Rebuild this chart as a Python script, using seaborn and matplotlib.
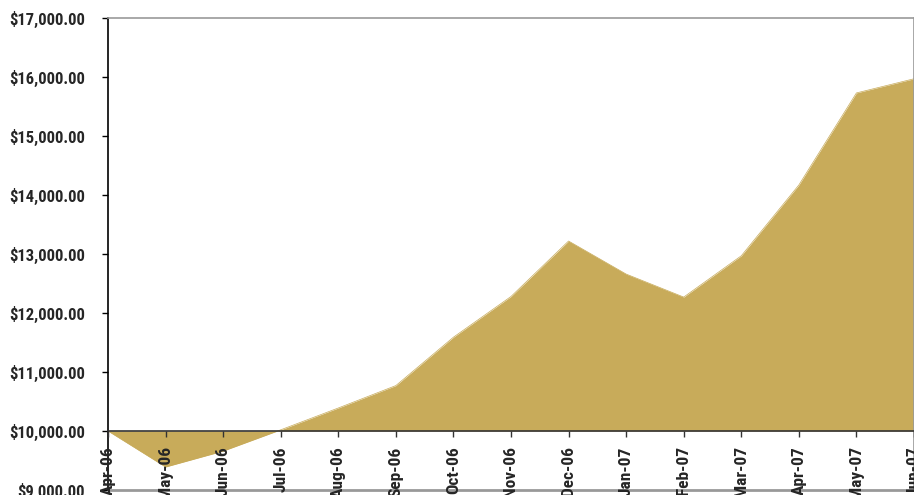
import seaborn as sns
import matplotlib.pyplot as plt
import matplotlib.ticker as mticker
from matplotlib import font_manager
import pandas as pd

# monthly values
months = ["Apr-06", "May-06", "Jun-06", "Jul-06", "Aug-06", "Sep-06", "Oct-06",
          "Nov-06", "Dec-06", "Jan-07", "Feb-07", "Mar-07", "Apr-07", "May-07", "Jun-07"]
values = [10000, 9390, 9660, 10020, 10390, 10770, 11590,
          12280, 13220, 12660, 12270, 12970, 14170, 15730, 15970]
baseline = 10000

df = pd.DataFrame({"pos": range(len(months)), "month": months, "value": values})

sns.set_theme(style="white")
# pick a narrow face if one is installed
names = {f.name for f in font_manager.fontManager.ttflist}
narrow = [n for n in ["Liberation Sans Narrow", "Roboto Condensed", "Open Sans Condensed",
                      "Noto Sans Condensed", "DejaVu Sans Condensed"] if n in names]
plt.rcParams['font.family'] = narrow + ['DejaVu Sans']
plt.rcParams['font.stretch'] = 'condensed'

gold = "#C8AB5A"

fig = plt.figure(figsize=(9.14, 4.95), dpi=100)
ax = fig.add_axes([108 / 914, 5 / 495, 1 - 108 / 914, (490 - 18) / 495])

sns.lineplot(data=df, x="pos", y="value", color=gold, linewidth=0.5, ax=ax, zorder=0.5)
ax.fill_between(df["pos"], df["value"], baseline, color=gold, linewidth=0, zorder=1)

ax.set_xlim(0, len(months) - 1)
ax.set_ylim(9000, 17000)
ax.set_xlabel("")
ax.set_ylabel("")

ax.yaxis.set_major_locator(mticker.MultipleLocator(1000))
ax.yaxis.set_major_formatter(mticker.FuncFormatter(lambda v, p: f"${v:,.2f}"))

# x axis crosses at the $10,000 line
ax.spines['bottom'].set_position(('data', baseline))
ax.spines['bottom'].set_color("#333333")
ax.spines['bottom'].set_linewidth(1.2)
ax.spines['left'].set_color("black")
ax.spines['left'].set_linewidth(1.2)
for s in ['top', 'right']:
    ax.spines[s].set_color("#999999")
    ax.spines[s].set_linewidth(1.2)
ax.axhline(9000, color="#999999", linewidth=2, clip_on=False, zorder=0.8)
ax.xaxis.set_zorder(5)

ax.set_xticks(df["pos"])
ax.set_xticklabels(months, rotation=90, fontsize=12.5, fontweight="bold", va="top")
ax.tick_params(axis='x', direction='out', length=4.5, width=1, color="#333333",
               pad=6.5, bottom=True)
ax.tick_params(axis='y', direction='out', length=4.5, width=1, color="black",
               pad=12, left=True, labelsize=12)
for lab in ax.get_yticklabels():
    lab.set_fontweight("bold")

fig.savefig("out.png", dpi=100)
